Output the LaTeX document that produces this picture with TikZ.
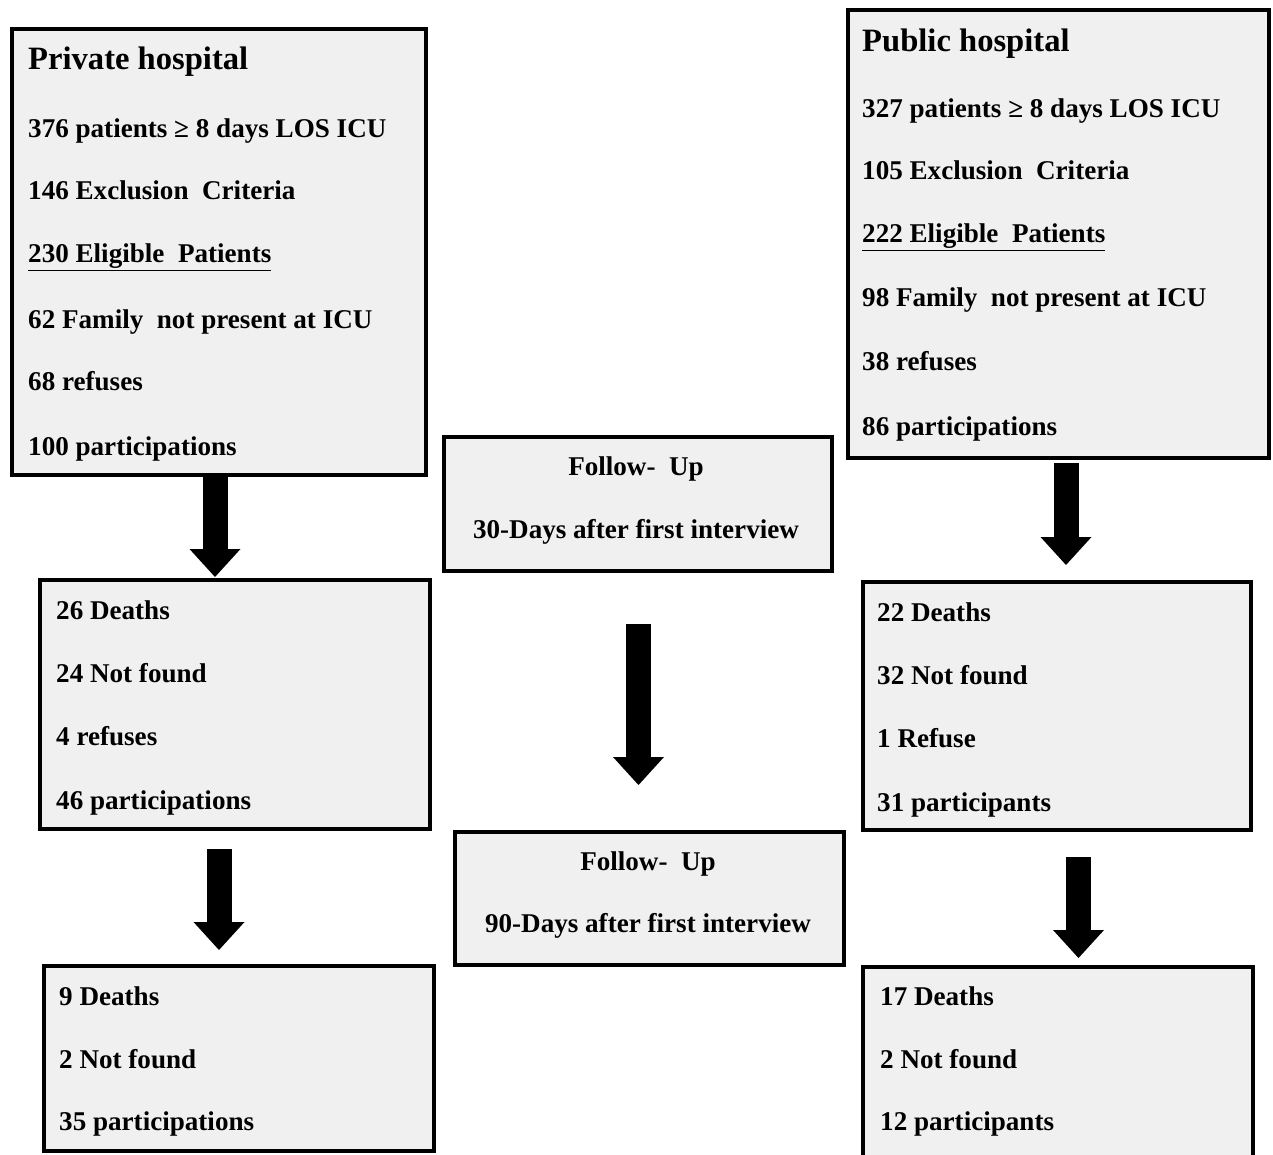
\documentclass[tikz,border=0pt]{standalone}
\usepackage{fontspec}
\setmainfont{Liberation Serif}
\usetikzlibrary{arrows.meta}
\definecolor{boxgray}{HTML}{F0F0F0}
\tikzset{
  x=1pt, y=-1pt,
  flowbox/.style={draw=black, line width=4pt, fill=boxgray, rectangle, inner sep=0pt, outer sep=0pt, anchor=north west},
  txt/.style={anchor=base west, inner sep=0pt, font=\fontsize{27.1}{30}\selectfont\bfseries},
  ctxt/.style={anchor=base, inner sep=0pt, font=\fontsize{27.1}{30}\selectfont\bfseries},
  head/.style={anchor=base west, inner sep=0pt, font=\fontsize{32.6}{36}\selectfont\bfseries},
  blockarrow/.style={draw=black, line width=25pt, -{Triangle[length=28pt,width=51pt,line width=0pt]}}
}
\begin{document}
\begin{tikzpicture}
\useasboundingbox (0,0) rectangle (1273,1155);
% boxes
\node[flowbox, minimum width=414pt, minimum height=446pt] (priv) at (12,29) {};
\node[flowbox, minimum width=421pt, minimum height=448pt] (pub) at (848,10) {};
\node[flowbox, minimum width=388pt, minimum height=134pt] (fu1) at (444,437) {};
\node[flowbox, minimum width=390pt, minimum height=249pt] (lm) at (40,580) {};
\node[flowbox, minimum width=388pt, minimum height=248pt] (rm) at (863,582) {};
\node[flowbox, minimum width=389pt, minimum height=133pt] (fu2) at (455,832) {};
\node[flowbox, minimum width=390pt, minimum height=185pt] (lb) at (44,966) {};
\node[flowbox, minimum width=390pt, minimum height=210pt] (rb) at (863,967) {};
% private hospital text
\node[head] (p0) at (28,70) {Private hospital};
\node[txt] (p1) at (28,138) {376 patients ≥ 8 days LOS ICU};
\node[txt] (p2) at (28,200) {146 Exclusion\ \ Criteria};
\node[txt] (p3) at (28,263) {\underline{230 Eligible\ \ Patients}};
\node[txt] (p4) at (28,328) {62 Family\ \ not present at ICU};
\node[txt] (p5) at (28,390) {68 refuses};
\node[txt] (p6) at (28,455) {100 participations};
% public hospital text
\node[head] (q0) at (862,52) {Public hospital};
\node[txt] (q1) at (862,118) {327 patients ≥ 8 days LOS ICU};
\node[txt] (q2) at (862,180) {105 Exclusion\ \ Criteria};
\node[txt] (q3) at (862,243) {\underline{222 Eligible\ \ Patients}};
\node[txt] (q4) at (862,307) {98 Family\ \ not present at ICU};
\node[txt] (q5) at (862,370) {38 refuses};
\node[txt] (q6) at (862,435) {86 participations};
% follow-up boxes
\node[ctxt] (f1a) at (636,475) {Follow-\ \ Up};
\node[ctxt] (f1b) at (636,538) {30-Days after first interview};
\node[ctxt] (f2a) at (648,870) {Follow-\ \ Up};
\node[ctxt] (f2b) at (648,932) {90-Days after first interview};
% left middle
\node[txt] (l1) at (56,619) {26 Deaths};
\node[txt] (l2) at (56,682) {24 Not found};
\node[txt] (l3) at (56,745) {4 refuses};
\node[txt] (l4) at (56,809) {46 participations};
% right middle
\node[txt] (r1) at (877,621) {22 Deaths};
\node[txt] (r2) at (877,684) {32 Not found};
\node[txt] (r3) at (877,747) {1 Refuse};
\node[txt] (r4) at (877,811) {31 participants};
% left bottom
\node[txt] (m1) at (59,1005) {9 Deaths};
\node[txt] (m2) at (59,1068) {2 Not found};
\node[txt] (m3) at (59,1130) {35 participations};
% right bottom
\node[txt] (n1) at (880,1005) {17 Deaths};
\node[txt] (n2) at (880,1068) {2 Not found};
\node[txt] (n3) at (880,1130) {12 participants};
% arrows
\draw[blockarrow, shorten <=2pt, shorten >=3pt] ([xshift=-4pt]priv.south) -- ([xshift=-20pt]lm.north);
\draw[blockarrow, shorten <=5pt, shorten >=17pt] ([xshift=7.5pt]pub.south) -- ([xshift=9pt]rm.north);
\draw[blockarrow, shorten <=53pt, shorten >=47pt] ([xshift=0.5pt]fu1.south) -- ([xshift=-11pt]fu2.north);
\draw[blockarrow, shorten <=20pt, shorten >=16pt] ([xshift=-16pt]lm.south) -- ([xshift=-20pt]lb.north);
\draw[blockarrow, shorten <=27pt, shorten >=9pt] ([xshift=21.5pt]rm.south) -- ([xshift=20.5pt]rb.north);
\end{tikzpicture}
\end{document}
